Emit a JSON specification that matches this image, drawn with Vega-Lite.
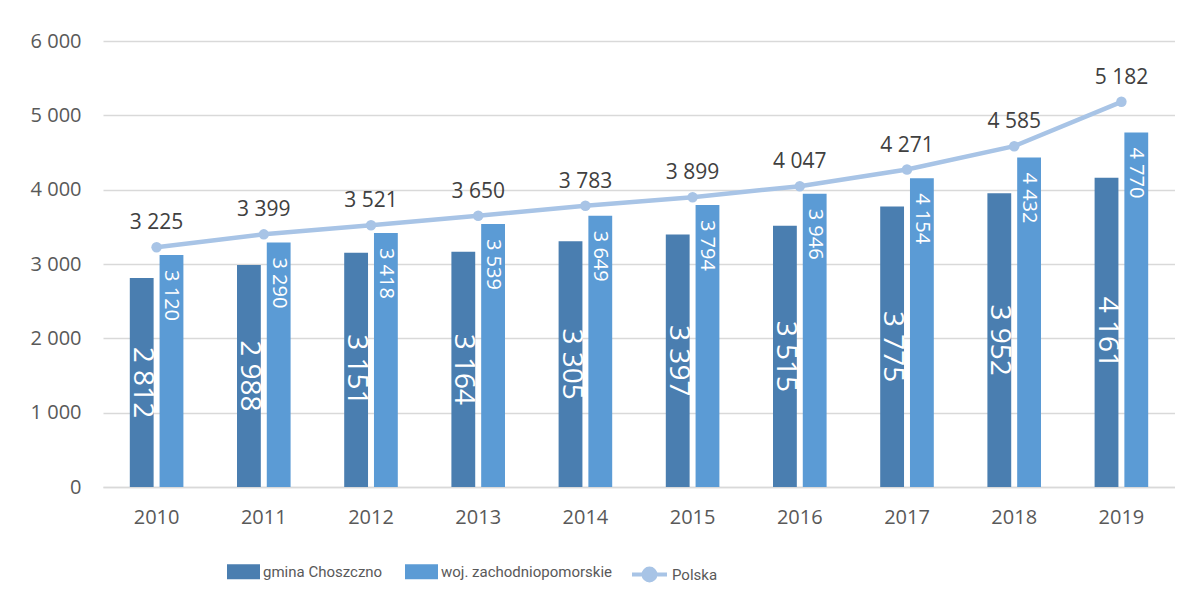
{
  "$schema": "https://vega.github.io/schema/vega-lite/v6.json",
  "width": 1072,
  "height": 446,
  "padding": {"left": 30, "top": 31, "right": 0, "bottom": 0},
  "background": "white",
  "config": {
    "locale": {"number": {"decimal": ",", "thousands": "\u00a0", "grouping": [3], "currency": ["", " zł"]}},
    "view": {"stroke": null},
    "font": "Open Sans",
    "axisX": {"domainColor": "#D9D9D9", "domainWidth": 1.5, "ticks": false, "grid": false, "labelFontSize": 20, "labelColor": "#595959", "labelPadding": 20, "labelAngle": 0, "title": null},
    "axisY": {"domain": false, "ticks": false, "grid": true, "gridColor": "#D9D9D9", "gridWidth": 1.5, "labelFontSize": 20, "labelColor": "#595959", "labelPadding": 22, "title": null}
  },
  "datasets": {
    "bars": [
      {"year": "2010", "series": "gmina Choszczno", "value": 2812},
      {"year": "2011", "series": "gmina Choszczno", "value": 2988},
      {"year": "2012", "series": "gmina Choszczno", "value": 3151},
      {"year": "2013", "series": "gmina Choszczno", "value": 3164},
      {"year": "2014", "series": "gmina Choszczno", "value": 3305},
      {"year": "2015", "series": "gmina Choszczno", "value": 3397},
      {"year": "2016", "series": "gmina Choszczno", "value": 3515},
      {"year": "2017", "series": "gmina Choszczno", "value": 3775},
      {"year": "2018", "series": "gmina Choszczno", "value": 3952},
      {"year": "2019", "series": "gmina Choszczno", "value": 4161},
      {"year": "2010", "series": "woj. zachodniopomorskie", "value": 3120},
      {"year": "2011", "series": "woj. zachodniopomorskie", "value": 3290},
      {"year": "2012", "series": "woj. zachodniopomorskie", "value": 3418},
      {"year": "2013", "series": "woj. zachodniopomorskie", "value": 3539},
      {"year": "2014", "series": "woj. zachodniopomorskie", "value": 3649},
      {"year": "2015", "series": "woj. zachodniopomorskie", "value": 3794},
      {"year": "2016", "series": "woj. zachodniopomorskie", "value": 3946},
      {"year": "2017", "series": "woj. zachodniopomorskie", "value": 4154},
      {"year": "2018", "series": "woj. zachodniopomorskie", "value": 4432},
      {"year": "2019", "series": "woj. zachodniopomorskie", "value": 4770}
    ],
    "polska": [
      {"year": "2010", "value": 3225},
      {"year": "2011", "value": 3399},
      {"year": "2012", "value": 3521},
      {"year": "2013", "value": 3650},
      {"year": "2014", "value": 3783},
      {"year": "2015", "value": 3899},
      {"year": "2016", "value": 4047},
      {"year": "2017", "value": 4271},
      {"year": "2018", "value": 4585},
      {"year": "2019", "value": 5182}
    ]
  },
  "layer": [
    {
      "layer": [
        {
          "data": {"name": "bars"},
          "mark": {"type": "bar"},
          "encoding": {
            "x": {"field": "year", "type": "nominal", "scale": {"paddingInner": 0.5, "paddingOuter": 0.25}},
            "xOffset": {"field": "series", "type": "nominal", "scale": {"domain": ["gmina Choszczno", "woj. zachodniopomorskie"], "paddingInner": 0.2, "paddingOuter": 0}},
            "y": {"field": "value", "type": "quantitative", "scale": {"domain": [0, 6000], "nice": false}, "axis": {"values": [0, 1000, 2000, 3000, 4000, 5000, 6000], "format": ",d"}},
            "color": {
              "field": "series", "type": "nominal",
              "scale": {"domain": ["gmina Choszczno", "woj. zachodniopomorskie"], "range": ["#4A7EB0", "#5B9BD5"]},
              "legend": {"orient": "none", "legendX": 124, "legendY": 514, "direction": "horizontal", "title": null,
                "symbolType": "M-1,-0.45H1V0.45H-1Z", "symbolSize": 1089, "symbolStrokeWidth": 0,
                "labelFont": "Roboto", "labelFontSize": 15, "labelColor": "#595959", "labelOffset": 3, "labelLimit": 400, "columnPadding": 22}
            }
          }
        },
        {
          "data": {"name": "bars"},
          "transform": [{"filter": "datum.series === 'woj. zachodniopomorskie'"}],
          "mark": {"type": "text", "angle": 90, "align": "left", "baseline": "middle", "dx": 15, "fontSize": 20, "color": "white"},
          "encoding": {
            "x": {"field": "year", "type": "nominal"},
            "xOffset": {"field": "series", "type": "nominal"},
            "y": {"field": "value", "type": "quantitative"},
            "text": {"field": "value", "type": "quantitative", "format": ",d"}
          }
        },
        {
          "data": {"name": "polska"},
          "mark": {"type": "line", "strokeWidth": 4.5},
          "encoding": {
            "x": {"field": "year", "type": "nominal"},
            "y": {"field": "value", "type": "quantitative"},
            "stroke": {
              "datum": "Polska",
              "scale": {"domain": ["Polska"], "range": ["#A8C4E6"]},
              "legend": {"orient": "none", "legendX": 527, "legendY": 514, "title": null,
                "symbolType": "M-1,0H1M-0.34,0A0.34,0.34,0,1,0,0.34,0A0.34,0.34,0,1,0,-0.34,0", "symbolSize": 1225,
                "symbolStrokeWidth": 4, "symbolFillColor": "#A8C4E6",
                "labelFont": "Roboto", "labelFontSize": 15, "labelColor": "#595959", "labelOffset": 3, "labelLimit": 400}
            }
          }
        },
        {
          "data": {"name": "polska"},
          "mark": {"type": "point", "filled": true, "size": 110, "opacity": 1, "color": "#A8C4E6"},
          "encoding": {
            "x": {"field": "year", "type": "nominal"},
            "y": {"field": "value", "type": "quantitative"}
          }
        },
        {
          "data": {"name": "polska"},
          "mark": {"type": "text", "dy": -24, "fontSize": 21, "color": "#404040"},
          "encoding": {
            "x": {"field": "year", "type": "nominal"},
            "y": {"field": "value", "type": "quantitative"},
            "text": {"field": "value", "type": "quantitative", "format": ",d"}
          }
        }
      ]
    },
    {
      "data": {"name": "bars"},
      "transform": [{"filter": "datum.series === 'gmina Choszczno'"}],
      "mark": {"type": "text", "angle": 90, "align": "center", "baseline": "middle", "fontSize": 28, "color": "white"},
      "encoding": {
        "x": {"field": "year", "type": "nominal"},
        "xOffset": {"field": "series", "type": "nominal"},
        "y": {"field": "value", "type": "quantitative", "scale": {"domain": [0, 12000], "nice": false}, "axis": null},
        "text": {"field": "value", "type": "quantitative", "format": ",d"}
      }
    }
  ],
  "resolve": {"scale": {"y": "independent"}}
}
